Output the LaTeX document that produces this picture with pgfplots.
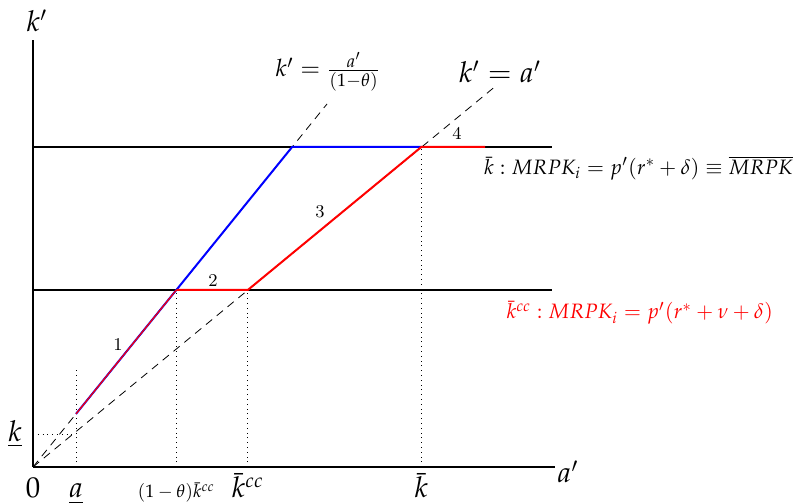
\documentclass[border=0pt]{standalone}
\usepackage{mathpazo}
\usepackage{pgfplots}
\pgfplotsset{compat=1.18}
\begin{document}
\begin{tikzpicture}
\useasboundingbox (-16.5pt,-18pt) rectangle (385.5pt,233.5pt);
\begin{axis}[
  x=0.5pt, y=0.5pt,
  xmin=0, xmax=522, ymin=0, ymax=427,
  axis x line=bottom, axis y line=left,
  axis line style={-, line width=0.6pt},
  clip=false,
  xtick={0,43,143.3,214.8,388.3},
  xticklabels={{\Large$0$}, {\Large$\underline{a}$}, {\small$(1-\theta)\bar{k}^{cc}$}, {\Large$\bar{k}^{cc}$}, {\Large$\bar{k}$}},
  ytick={33}, yticklabels={{\Large$\underline{k}$}},
  major tick length=0pt,
  xticklabel style={anchor=base, yshift=-15.5pt},
  yticklabel style={anchor=east, xshift=-2pt},
]
\addplot[black, line width=1pt] coordinates {(0,177) (519,177)};
\addplot[black, line width=1pt] coordinates {(0,320) (519,320)};
\addplot[black, line width=0.4pt, dash pattern=on 4pt off 3pt] coordinates {(0,0) (294,363)};
\addplot[black, line width=0.4pt, dash pattern=on 4pt off 3pt] coordinates {(0,0) (464,382)};
\addplot[black, dotted] coordinates {(43,0) (43,100)};
\addplot[black, dotted] coordinates {(143.3,0) (143.3,177)};
\addplot[black, dotted] coordinates {(214.8,0) (214.8,177)};
\addplot[black, dotted] coordinates {(388.3,0) (388.3,320)};
\addplot[black, dotted] coordinates {(0,33) (43,33)};
\addplot[blue, line width=1pt] coordinates {(43,53.1) (259.1,320) (388.3,320)};
\addplot[red, line width=0.6pt] coordinates {(43,53.1) (143.3,177)};
\addplot[red, line width=1pt] coordinates {(143.3,177) (214.8,177) (388.3,320) (452,320)};
\node at (axis cs:85,122) {\small 1};
\node at (axis cs:180,186) {\small 2};
\node at (axis cs:287,255) {\small 3};
\node at (axis cs:424,334) {\small 4};
\node at (axis cs:295,395) {\large $k'=\frac{a'}{(1-\theta)}$};
\node at (axis cs:467,395) {\Large $k'=a'$};
\node[anchor=east] at (axis cs:767,299) {\fontsize{10.4}{12}\selectfont $\bar{k}: MRPK_i = p'(r^*+\delta)\equiv\overline{MRPK}$};
\node[anchor=east, red] at (axis cs:747,154) {\fontsize{10.4}{12}\selectfont $\bar{k}^{cc}: MRPK_i = p'(r^*+\nu+\delta)$};
\node at (axis cs:4,446) {\Large $k'$};
\node at (axis cs:535,-5) {\Large $a'$};
\end{axis}
\end{tikzpicture}
\end{document}
